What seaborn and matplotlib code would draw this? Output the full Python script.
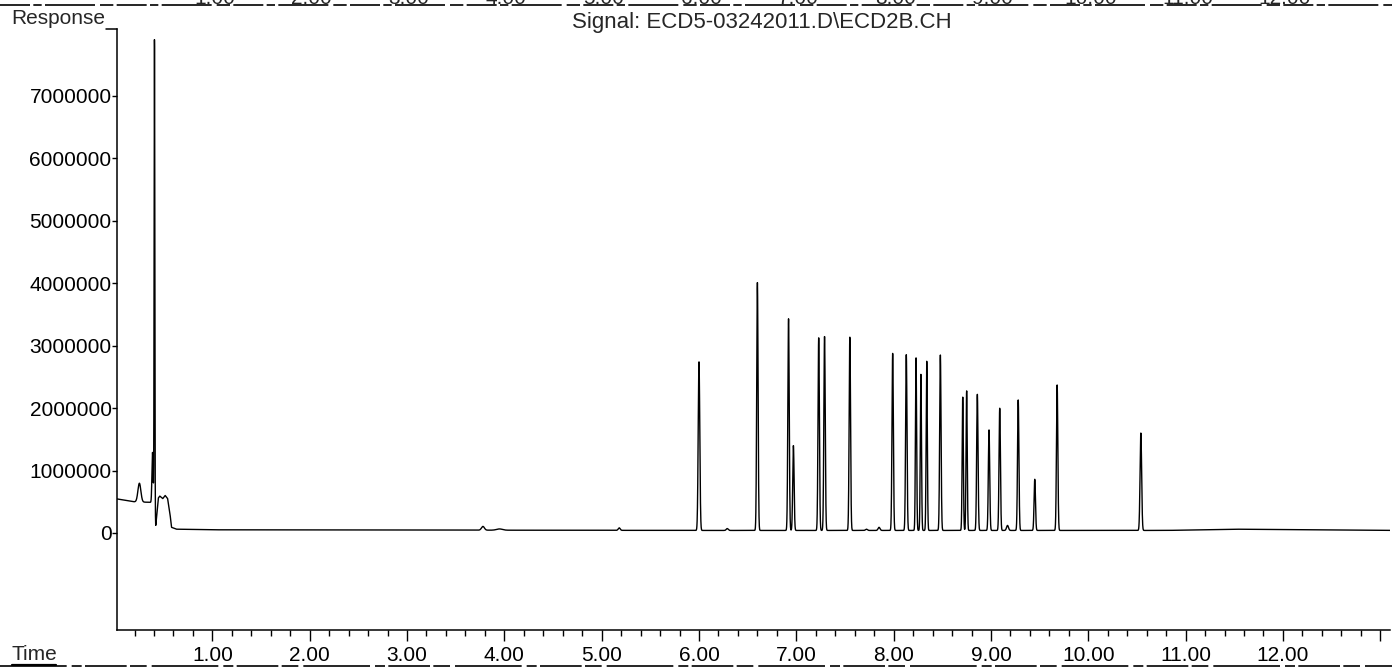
"""
GC-ECD chromatogram, signal ECD5-03242011.D\\ECD2B.CH
"""

import numpy as np
import pandas as pd
import matplotlib
matplotlib.use("Agg")
import matplotlib.pyplot as plt
import matplotlib.transforms as mtransforms
from matplotlib.lines import Line2D
from matplotlib.ticker import MultipleLocator, FixedLocator, FixedFormatter
import seaborn as sns

# ── DATA ──────────────────────────────────────
# retention time (min), peak height above baseline (counts), peak sigma (min)
peak_times = [0.25, 0.385, 0.405, 3.78, 3.95, 5.18, 6.00, 6.29, 6.60, 6.92, 6.97,
              7.23, 7.29, 7.55, 7.72, 7.85, 7.99, 8.13, 8.23, 8.28, 8.34,
              8.48, 8.71, 8.75, 8.86, 8.98, 9.09, 9.17, 9.28, 9.45, 9.68, 10.54]
peak_heights = [300000, 800000, 7550000, 60000, 20000, 40000, 2700000, 30000,
                3970000, 3390000, 1360000, 3090000, 3110000, 3100000, 20000,
                50000, 2840000, 2820000, 2770000, 2500000, 2710000, 2810000,
                2140000, 2240000, 2180000, 1610000, 1960000, 80000, 2090000,
                820000, 2330000, 1560000]
peak_sigmas = [0.015, 0.006, 0.0035, 0.015, 0.03, 0.01, 0.008, 0.01, 0.007,
               0.007, 0.007, 0.007, 0.007, 0.007, 0.01, 0.01, 0.007, 0.007,
               0.006, 0.006, 0.006, 0.007, 0.006, 0.006, 0.007, 0.007, 0.007,
               0.01, 0.007, 0.007, 0.007, 0.008]

# baseline knots (solvent front plateau, drift)
base_times = [0.0, 0.19, 0.36, 0.398, 0.418, 0.445, 0.46, 0.49, 0.515, 0.54,
              0.565, 0.58, 0.63, 1.0, 1.5, 3.5, 5.9, 10.8, 11.5, 12.3, 13.2]
base_levels = [550000, 500000, 490000, 490000, 110000, 560000, 590000, 550000,
               600000, 550000, 300000, 90000, 60000, 50000, 50000, 45000,
               40000, 40000, 60000, 50000, 40000]

y_ticks = [0, 1000000, 2000000, 3000000, 4000000, 5000000, 6000000, 7000000]
x_major = [1, 2, 3, 4, 5, 6, 7, 8, 9, 10, 11, 12, 13]
x_labels = ["1.00", "2.00", "3.00", "4.00", "5.00", "6.00", "7.00", "8.00",
            "9.00", "10.00", "11.00", "12.00", ""]
signal_title = "Signal: ECD5-03242011.D\\ECD2B.CH"

W, H = 1392, 668


# ── BUILD TRACE ───────────────────────────────
def build_trace():
    t = np.arange(0.0, 13.2, 0.0008)
    y = np.interp(t, base_times, base_levels)
    for t0, h, s in zip(peak_times, peak_heights, peak_sigmas):
        y = y + h * np.exp(-0.5 * ((t - t0) / s) ** 2)
    return pd.DataFrame({"time": t, "response": y})


def main():
    sns.set_theme(style="ticks")
    plt.rcParams["font.family"] = ["Liberation Sans", "DejaVu Sans"]
    fs = 15

    df = build_trace()

    fig = plt.figure(figsize=(W / 100, H / 100), dpi=100, facecolor="white")
    ax = fig.add_axes([117 / W, 1 - 630 / H, (1390 - 117) / W, (630 - 29) / H])

    sns.lineplot(data=df, x="time", y="response", ax=ax, color="black",
                 linewidth=1.0, estimator=None, sort=False)

    ax.set_xlim(0.02, 13.1)
    ax.set_ylim(-1555000, 8073000)

    for side in ["top", "right"]:
        ax.spines[side].set_visible(False)
    for side in ["left", "bottom"]:
        ax.spines[side].set_color("black")
        ax.spines[side].set_linewidth(1.1)

    ax.set_yticks(y_ticks)
    ax.set_yticklabels([str(v) for v in y_ticks], fontsize=fs)
    ax.tick_params(axis="y", length=3.4, width=1, color="black", pad=0.5,
                   labelcolor="black")

    ax.xaxis.set_major_locator(FixedLocator(x_major))
    ax.xaxis.set_major_formatter(FixedFormatter(x_labels))
    ax.xaxis.set_minor_locator(MultipleLocator(0.2))
    ax.tick_params(axis="x", which="major", length=8, width=1, color="black",
                   pad=3.5, labelsize=fs, labelcolor="black")
    ax.tick_params(axis="x", which="minor", length=4.3, width=1, color="black")
    ax.set_xlabel("")
    ax.set_ylabel("")
    ax.grid(False)

    # axis captions like the instrument printout
    fig.text(11 / W, 1 - 24 / H, "Response", fontsize=fs, va="baseline")
    fig.add_artist(Line2D([106 / W, 117 / W], [1 - 29 / H, 1 - 29 / H],
                          color="black", lw=1.1))
    fig.text(762 / W, 1 - 28 / H, signal_title, fontsize=16,
             ha="center", va="baseline")
    fig.text(12 / W, 1 - 660 / H, "Time", fontsize=fs, va="baseline")

    # cut-off ruler of the previous page at the top, ruler rule at the bottom
    blend = mtransforms.blended_transform_factory(ax.transData, fig.transFigure)
    for t, lbl in zip(x_major[:-1], x_labels[:-1]):
        fig.text(t + 0.02, 1 - 3.5 / H, lbl, fontsize=fs, ha="center",
                 va="baseline", transform=blend)
    fig.add_artist(Line2D([0, 1], [1 - 5 / H, 1 - 5 / H], color="black",
                          lw=1.2, dashes=[18, 2, 5, 2, 30, 3, 8, 2]))
    fig.add_artist(Line2D([12 / W, 56 / W], [1 - 664.5 / H, 1 - 664.5 / H],
                          color="black", lw=1.6))
    fig.add_artist(Line2D([0, 1], [1 - 665.5 / H, 1 - 665.5 / H], color="black",
                          lw=1.2, dashes=[40, 3, 6, 2, 25, 2, 10, 3]))

    plt.savefig("out.png", dpi=100, facecolor="white")
    plt.close()


if __name__ == "__main__":
    main()
